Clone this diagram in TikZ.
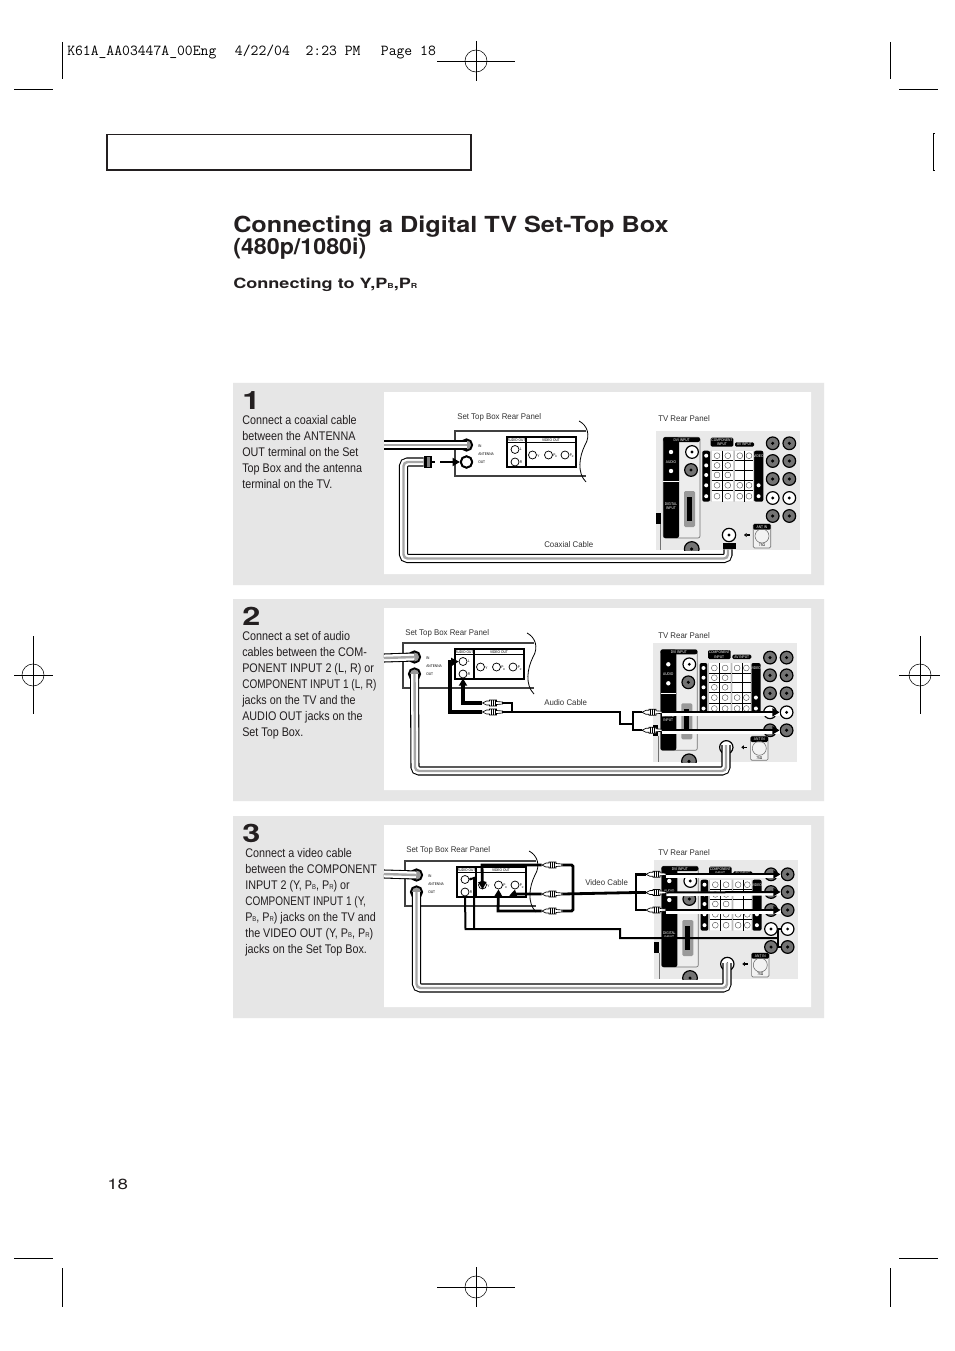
\documentclass[tikz,border=0pt]{standalone}
\usepackage{fontspec}
\usetikzlibrary{arrows.meta}
\setmainfont{Liberation Sans}
\newfontfamily\narrowf[FakeStretch=0.86]{Liberation Sans}
\newfontfamily\capf[FakeStretch=0.80]{Liberation Sans}
\newfontfamily\labelf[FakeStretch=0.95]{Liberation Sans}
\newfontfamily\tinyf[FakeStretch=0.84]{Liberation Sans}
\newfontfamily\titlef[FakeStretch=1.14]{TeX Gyre Heros}
\newfontfamily\titlesf[FakeStretch=1.05]{TeX Gyre Heros}
\newfontfamily\xwidef[FakeStretch=1.28]{TeX Gyre Heros}
\definecolor{band}{HTML}{E6E6E6}
\definecolor{tvgray}{HTML}{E9E9E9}
\definecolor{cell}{HTML}{BDBDBD}
\definecolor{ink}{HTML}{231F20}
\newcommand\subs[1]{{\fontsize{5.2}{6}\selectfont #1}}
\newcommand\tinyt{\tinyf\fontsize{2.9}{3.3}\selectfont}
\tikzset{
  bodytext/.style={anchor=north west,inner sep=0pt,align=left,text=ink,font=\narrowf\fontsize{9.4}{12}\selectfont},
  steplabel/.style={anchor=base west,inner sep=0pt,text=ink,font=\xwidef\bfseries\fontsize{19}{20}\selectfont},
  captxt/.style={anchor=base west,inner sep=0pt,text=black!80,font=\labelf\fontsize{6.2}{7}\selectfont},
  tinylab/.style={inner sep=0pt,font=\tinyt},
  tinyw/.style={inner sep=0pt,text=white,font=\tinyt},
  jacksm/.style={circle,draw=black,line width=.55pt,fill=white,minimum size=6pt,inner sep=0pt,
    path picture={\fill (path picture bounding box.center) circle (.7pt);}},
  jackcell/.style={circle,draw=black!70,line width=.3pt,minimum size=4.4pt,inner sep=0pt},
  tvjack/.style={circle,draw=black,line width=.9pt,fill=black!55,minimum size=9.5pt,inner sep=0pt,
    path picture={\fill[black] (path picture bounding box.center) circle (1.3pt);}},
  tvjackw/.style={circle,draw=black,line width=.9pt,fill=white,minimum size=9.5pt,inner sep=0pt,
    path picture={\fill[black] (path picture bounding box.center) circle (1.2pt);}},
  ringjack/.style={circle,draw=black,line width=1.4pt,fill=black!40,minimum size=8.5pt,inner sep=0pt},
  coax/.style={draw=white,line width=5.2pt,rounded corners=3pt,
    preaction={draw=black,line width=6.8pt},
    postaction={draw=black!35,line width=1.8pt}},
  sigline/.style={draw=black,line width=2.1pt},
  thinsig/.style={draw=black,line width=1.5pt},
  arrowtip/.style={-{Triangle[length=5.5pt,width=6pt]}},
  whiteback/.style={draw=white,line width=3pt},
  plugbody/.style={inner sep=0pt,minimum width=15pt,minimum height=5pt},
  cropline/.style={draw=black,line width=.75pt},
  regline/.style={draw=black,line width=.4pt},
  stbline/.style={draw=black!75,line width=.8pt},
  connbox/.style={fill=black,inner sep=0pt}
}
\newcommand\regmark[5]{% x y half-horizontal half-vertical
  \draw[regline] ({#1-#3},#2) -- ({#1+#4},#2) (#1,{#2-#5}) -- (#1,{#2+#5});
  \draw[regline] (#1,#2) circle (11);
}
% Set-top box rear panel
\newcommand\stb[3]{%
\begin{scope}[shift={(#2,#3)}]
  \draw[stbline] (131,0) -- (0,0) -- (0,45) -- (131,45);
  \draw[line width=.6pt] (124,-10) .. controls (132,-6) and (136,4) .. (130,14) .. controls (124,26) and (122,42) .. (131,51);
  \draw[line width=.8pt] (52,6) rectangle (121,36) (71,6) -- (71,36) (52,11.5) -- (121,11.5);
  \node[tinylab] (#1ha) at (61.5,8.8) {AUDIO OUT};
  \node[tinylab] (#1hv) at (96,8.8) {VIDEO OUT};
  \node[ringjack] (#1in) at (11.5,14) {};
  \node[ringjack] (#1out) at (11.5,31) {};
  \node[tinylab,anchor=west] (#1ti) at (23,15) {IN};
  \node[tinylab,anchor=west] (#1ta) at (23,23) {ANTENNA};
  \node[tinylab,anchor=west] (#1to) at (23,31) {OUT};
  \node[jacksm] (#1L) at (60,18.5) {};
  \node[jacksm] (#1R) at (60,31) {};
  \node[jacksm] (#1Y) at (77.5,24) {};
  \node[jacksm] (#1B) at (93.5,24) {};
  \node[jacksm] (#1P) at (110,24) {};
  \node[tinylab,anchor=west] (#1tl) at (64.5,18.5) {L};
  \node[tinylab,anchor=west] (#1tr) at (64.5,31.5) {R};
  \node[tinylab,anchor=west] (#1ty) at (82,25) {Y};
  \node[tinylab,anchor=west] (#1tb) at (98,25) {P\textsubscript{B}};
  \node[tinylab,anchor=west] (#1tp) at (114.5,25) {P\textsubscript{R}};
\end{scope}}
% TV rear panel: name, x, y, jack row offset
\newcommand\tvpanel[4]{%
\begin{scope}[shift={(#2,#3)}]
  \fill[tvgray] (0,0) rectangle (144,119);
  \begin{scope}
    \clip (0,0) rectangle (144,119);
    \node[tvjack,minimum size=11pt] (#1tv) at (35.7,118) {};
  \end{scope}
  \fill[black] (0,81.7) rectangle (4.7,93);
  \draw[black!55,line width=.5pt] (4.7,93) -- (4.7,119);
  % DVI block
  \draw[black!55,fill=white!93!black,line width=.5pt,rounded corners=1.5pt] (7.3,6.3) rectangle (44,107);
  \fill[black,rounded corners=1.5pt] (7.3,6.3) rectangle (23,107);
  \fill[black,rounded corners=1.5pt] (7.3,6.3) rectangle (44,11);
  \node[tinyw] (#1dvi) at (25.6,8.7) {DVI INPUT};
  \draw[white,line width=.6pt] (7.3,50) -- (23,50);
  \fill[white] (15,21) circle (2.2) (15,40) circle (2.2);
  \node[tinyw] (#1aud) at (15,31) {AUDIO};
  \node[tinyw,align=center] (#1dig) at (15,75) {DIGITAL\\INPUT};
  \node[tvjackw] (#1da) at (36,21) {};
  \node[tvjack] (#1db) at (35,39) {};
  \fill[black!40,rounded corners=1pt] (28,60) rectangle (39,96);
  \fill[black] (31,66) rectangle (36,90);
  % component grid
  \fill[black,rounded corners=1.5pt] (46.3,19.7) rectangle (54,70.7);
  \fill[black,rounded corners=1.5pt] (98,19.7) rectangle (107.3,70.7);
  \fill[cell,rounded corners=1pt] (54,19.7) rectangle (98,70.7);
  \fill[white] (55.7,19.7) rectangle (77.3,70.7) (79,19.7) rectangle (97.3,70.7);
  \foreach \g in {29.7,39,49,59.7} {\draw[black,line width=.45pt] (55.7,\g) -- (77.3,\g) (79,\g) -- (97.3,\g);}
  \draw[black,line width=.45pt] (66.3,19.7) -- (66.3,70.7) (88.7,19.7) -- (88.7,70.7);
  \foreach \cy in {24.7,34.4,44,54.3,65.2} {
    \node[jackcell] at (61,\cy) {};
    \node[jackcell] at (71.8,\cy) {};
    \fill[white] (50.2,\cy) circle (2);
  }
  \foreach \cy in {24.7,54.3,65.2} {
    \node[jackcell] at (83.8,\cy) {};
    \node[jackcell] at (93,\cy) {};
  }
  \node[tinyw] (#1vid) at (102.6,24.7) {VIDEO};
  \fill[white] (102.6,54.3) circle (2) (102.6,65.2) circle (2);
  \fill[black,rounded corners=1pt] (54.7,6.7) rectangle (77.3,15.7);
  \node[tinyw,align=center] (#1com) at (66,11.2) {COMPONENT\\INPUT};
  \fill[black,rounded corners=1pt] (79,11.3) rectangle (98,15.7);
  \node[tinyw] (#1av) at (88.5,13.5) {AV INPUT};
  % right-hand jack columns
  \node[tvjack]  (#1j11) at (116.7,12.3+#4) {};
  \node[tvjack]  (#1j12) at (133.3,12.3+#4) {};
  \node[tvjack]  (#1j21) at (116.7,30+#4) {};
  \node[tvjack]  (#1j22) at (133.3,30+#4) {};
  \node[tvjack]  (#1j31) at (116.7,48+#4) {};
  \node[tvjack]  (#1j32) at (133.3,48+#4) {};
  \node[tvjackw] (#1j41) at (116.7,67+#4) {};
  \node[tvjackw] (#1j42) at (133.3,67+#4) {};
  \node[tvjack]  (#1j51) at (116.7,85+#4) {};
  \node[tvjack]  (#1j52) at (133.3,85+#4) {};
  % antenna
  \node[tvjack,fill=white,minimum size=10pt] (#1ant) at (73,104) {};
  \draw[black,line width=.8pt,-{Triangle[length=2pt,width=3pt]}] (93.5,104) -- (88,104);
  \draw[black!55,fill=white!95!black,line width=.5pt,rounded corners=1pt] (97.3,93) rectangle (114.7,117);
  \fill[black,rounded corners=1pt] (97.3,93) rectangle (114.7,98.7);
  \node[tinyw] (#1ai) at (106,95.9) {ANT IN};
  \draw[black!60,line width=.4pt] (106,105) circle (7);
  \node[tinylab] (#1oh) at (106,114.6) {75Ω};
\end{scope}}
% RCA plug: name x y
\newcommand\rca[3]{%
\begin{scope}[shift={(#2,#3)}]
  \draw[black,line width=.5pt,fill=white] (-10,0) -- (-6,-2) -- (-3,-2) -- (-3,-3) -- (4,-3) -- (4,-1.5) -- (10,-1) -- (10,1) -- (4,1.5) -- (4,3) -- (-3,3) -- (-3,2) -- (-6,2) -- cycle;
  \foreach \q in {-1.5,0.5,2.5} {\draw[black,line width=.45pt] (\q,-3) -- (\q,3);}
\end{scope}
\node[plugbody] (#1) at (#2,#3) {};}
\begin{document}
\begin{tikzpicture}[x=.75pt,y=-.75pt]
\useasboundingbox (0,0) rectangle (954,1351);
\fill[white] (0,0) rectangle (954,1351);
% printer marks
\node[anchor=base west,inner sep=0pt,font=\ttfamily\fontsize{11.43}{12}\selectfont] (slug) at (67,56) {K61A\_AA03447A\_00Eng\ \ \kern2.2pt 4/22/04\ \ 2:23 PM\ \ \kern3.5pt Page 18};
\draw[cropline] (62,42) -- (62,79) (14,90) -- (53,90) (890,42) -- (890,79) (899,90) -- (938,90);
\draw[cropline] (62,1268) -- (62,1307) (14,1258) -- (53,1258) (890,1268) -- (890,1307) (899,1258) -- (938,1258);
\regmark{476}{61}{39}{39}{20}
\regmark{476}{1287}{39}{39}{20}
\regmark{33}{675}{19}{20}{39}
\regmark{920}{675}{21}{20}{39}
% header bar
\draw[ink,line width=1.4pt] (107,134.5) rectangle (471,170);
\draw[black,line width=1.1pt] (934.5,133.5) -- (933.6,133.5) -- (933.6,170.5) -- (934.5,170.5);
% title
\node[anchor=base west,inner sep=0pt,text=ink,font=\titlef\bfseries\fontsize{16.6}{16}\selectfont] (title) at (233,233) {Connecting a Digital TV Set-Top Box};
\node[anchor=base west,inner sep=0pt,text=ink,font=\titlesf\bfseries\fontsize{16.6}{16}\selectfont] (title2) at (233,255) {(480p/1080i)};
\node[anchor=base west,inner sep=0pt,text=ink,font=\xwidef\bfseries\fontsize{10.6}{12}\selectfont] (sub) at (233,288.5) {Connecting to Y,P\subs{B},P\subs{R}};
\node[anchor=base west,inner sep=0pt,text=ink,font=\xwidef\fontsize{11}{14}\selectfont] (pageno) at (107,1189) {18};
% bands
\fill[band] (233,383) rectangle (824,585) (233,599) rectangle (824,801) (233,816) rectangle (824,1018);
\fill[white] (384,392) rectangle (811,574) (384,608) rectangle (811,790) (384,825) rectangle (811,1007);
% step texts
\node[steplabel] (n1) at (242,409) {1};
\node[steplabel] (n2) at (242,625) {2};
\node[steplabel] (n3) at (242,842) {3};
\node[bodytext] (t1) at (242,415.5) {Connect a coaxial cable\\between the ANTENNA\\OUT terminal on the Set\\Top Box and the antenna\\terminal on the TV.};
\node[bodytext] (t2) at (242,631.5) {Connect a set of audio\\cables between the COM-\\PONENT INPUT 2 (L, R) or\\{\capf COMPONENT INPUT 1 (L, R)}\\jacks on the TV and the\\AUDIO OUT jacks on the\\Set Top Box.};
\node[bodytext] (t3) at (245,848.5) {Connect a video cable\\between the COMPONENT\\INPUT 2 (Y, P\subs{B}, P\subs{R}) or\\{\capf COMPONENT INPUT 1 (Y,}\\P\subs{B}, P\subs{R}) jacks on the TV and\\the VIDEO OUT (Y, P\subs{B}, P\subs{R})\\jacks on the Set Top Box.};
% captions
\node[captxt] (c1a) at (457,419) {Set Top Box Rear Panel};
\node[captxt] (c1b) at (658,421) {TV Rear Panel};
\node[captxt] (c1c) at (544,547) {Coaxial Cable};
\node[captxt] (c2a) at (405,635) {Set Top Box Rear Panel};
\node[captxt] (c2b) at (658,638) {TV Rear Panel};
\node[captxt] (c2c) at (544,705) {Audio Cable};
\node[captxt] (c3a) at (406,852) {Set Top Box Rear Panel};
\node[captxt] (c3b) at (658,855) {TV Rear Panel};
\node[captxt] (c3c) at (585,885) {Video Cable};
% ------ equipment
\stb{a}{455}{431}
\stb{b}{403}{643}
\stb{c}{405}{861}
\tvpanel{p}{656}{431}{0}
\tvpanel{q}{653.3}{643.3}{2}
\tvpanel{r}{654.3}{860}{2}
% ------ step 1
\node[jacksm,line width=1.4pt,minimum size=8.5pt] at (aout) {};
\coordinate (a0) at (384,445);
\draw[coax] (a0) -- (ain.center);
\node[connbox,minimum width=6pt,minimum height=9pt] (aplug) at (428,462) {};
\node[connbox,minimum width=10pt,minimum height=4.5pt] (pplug) at (729.5,546) {};
\coordinate (a1) at (403.5,462);
\coordinate (a2) at (403.5,558.5);
\coordinate (a3) at (728,558.5);
\draw[coax] (aplug.west) -- (a1) -- (a2) -- (a3) -- (pplug.south -| a3);
\draw[black,line width=1.8pt,arrowtip,dash pattern=on 2pt off 4pt on 20pt off 0pt] (aplug.east) -- (aout.west);
\node[connbox,minimum width=6pt,minimum height=9pt] at (428,462) {};
\fill[black!50] (426.5,457) rectangle (429.5,467);
\node[connbox,minimum width=10pt,minimum height=4.5pt] at (729.5,546) {};
% ------ step 2
\coordinate (b0) at (384,658);
\draw[coax] (b0) -- (bin.center);
\coordinate (b1) at (415,771);
\coordinate (b2) at (726,771);
\coordinate (b3) at (726,745);
\draw[coax] (bout.center) -- (b1) -- (b2) -- (b3);
\rca{bp1}{492.5}{703}
\rca{bp2}{492.5}{712}
\coordinate (b4) at (463,703);
\draw[sigline,line width=2.6pt,arrowtip] (bp1.west) -- (b4) -- (bR.south);
\coordinate (b5) at (450,712);
\coordinate (b6) at (450,662);
\draw[sigline,line width=2.8pt,arrowtip] (bp2.west) -- (b5) -- (b6) -- (bL.west);
\coordinate (b7) at (512,703);
\coordinate (b8) at (512,712);
\draw[thinsig] (bp1.east) -- (b7) -- (b8);
\coordinate (b9) at (620,712);
\coordinate (b10) at (620,724);
\coordinate (b11) at (633,724);
\draw[thinsig] (bp2.east) -- (b9) -- (b10) -- (b11);
\rca{qp1}{652}{712.3}
\rca{qp2}{652}{730.3}
\coordinate (b12) at (633,712.3);
\coordinate (b13) at (633,730.3);
\draw[thinsig] (qp1.west) -- (b12) -- (b13) -- (qp2.west);
\draw[whiteback] ([yshift=-1.2pt]qp1.east) -- ([yshift=-1.2pt]qj42.west);
\draw[whiteback] ([yshift=-1.2pt]qp2.east) -- ([yshift=-1.2pt]qj52.west);
\draw[thinsig,arrowtip] (qp1.east) -- (qj42.west);
\draw[thinsig,arrowtip] (qp2.east) -- (qj52.west);
% ------ step 3
\coordinate (c0) at (384,874);
\draw[coax] (c0) -- (cin.center);
\coordinate (c1) at (416.5,988);
\coordinate (c2) at (727,988);
\coordinate (c3) at (727,963);
\draw[coax] (cout.center) -- (c1) -- (c2) -- (c3);
\rca{cp1}{552}{865}
\rca{cp2}{552}{894}
\rca{cp3}{552}{911}
\coordinate (c4) at (482,865);
\draw[sigline,arrowtip] (cp1.west) -- (c4) -- (cY.south);
\coordinate (c5) at (514,894);
\draw[sigline,arrowtip] (cp2.west) -- (c5) -- (cP.south);
\coordinate (c6) at (498,911);
\draw[sigline,arrowtip] (cp3.west) -- (c6) -- (cB.south);
\coordinate (c7) at (573,865);
\coordinate (c8) at (573,911);
\draw[sigline,rounded corners=1pt] (cp1.east) -- (c7) -- (c8) -- (cp3.east);
\coordinate (c9) at (636,892.5);
\draw[sigline] (cp2.east) -- (c9);
\rca{rp1}{656}{874.3}
\rca{rp2}{656}{892.5}
\rca{rp3}{656}{910}
\coordinate (c10) at (636,874.3);
\coordinate (c11) at (636,910);
\draw[sigline] (rp1.west) -- (c10) -- (c11) -- (rp3.west);
\draw[sigline] (c9) -- (rp2.west);
\draw[whiteback] ([yshift=-1.2pt]rp1.east) -- ([yshift=-1.2pt]rj12.west);
\draw[whiteback] ([yshift=-1.2pt]rp2.east) -- ([yshift=-1.2pt]rj22.west);
\draw[whiteback] ([yshift=-1.2pt]rp3.east) -- ([yshift=-1.2pt]rj32.west);
\draw[thinsig,arrowtip] (rp1.east) -- (rj12.west);
\draw[thinsig,arrowtip] (rp2.east) -- (rj22.west);
\draw[thinsig,arrowtip] (rp3.east) -- (rj32.west);
% audio pair, step 3
\coordinate (c12) at (474,878);
\coordinate (c13) at (474,929);
\coordinate (c14) at (465.5,929);
\coordinate (c15) at (620,929);
\coordinate (c16) at (620,938);
\coordinate (c17) at (778,938);
\coordinate (c18) at (778,929);
\coordinate (c19) at (778,947);
\draw[thinsig] (cL.east) -- (c12) -- (c13);
\draw[thinsig] (cR.south) -- (c14) -- (c15) -- (c16) -- (c17);
\draw[thinsig] (rj42.west) -- (c18) -- (c19) -- (rj52.west);
\end{tikzpicture}
\end{document}
